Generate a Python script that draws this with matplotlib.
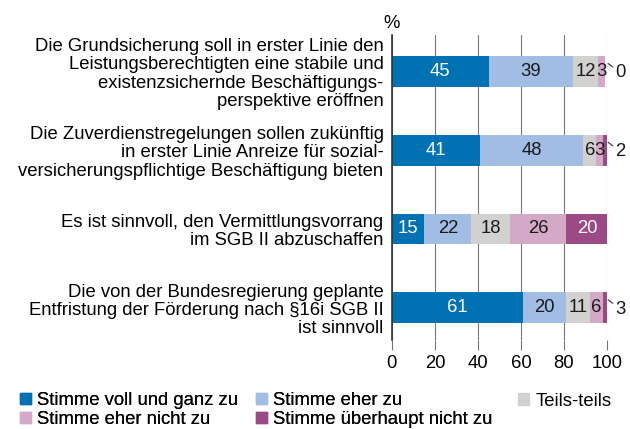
import matplotlib
matplotlib.use("Agg")
import matplotlib.pyplot as plt
from matplotlib.patches import Patch
import numpy as np

plt.rcParams["font.family"] = ["Liberation Sans", "DejaVu Sans"]

questions = [
    "Die Grundsicherung soll in erster Linie den\nLeistungsberechtigten eine stabile und\nexistenzsichernde Beschäftigungs-\nperspektive eröffnen",
    "Die Zuverdienstregelungen sollen zukünftig\nin erster Linie Anreize für sozial-\nversicherungspflichtige Beschäftigung bieten",
    "Es ist sinnvoll, den Vermittlungsvorrang\nim SGB II abzuschaffen",
    "Die von der Bundesregierung geplante\nEntfristung der Förderung nach §16i SGB II\nist sinnvoll",
]
categories = [
    "Stimme voll und ganz zu",
    "Stimme eher zu",
    "Teils-teils",
    "Stimme eher nicht zu",
    "Stimme überhaupt nicht zu",
]
voll = [45, 41, 15, 61]
eher = [39, 48, 22, 20]
teils = [12, 6, 18, 11]
eher_nicht = [3, 3, 26, 6]
gar_nicht = [0, 2, 20, 3]

colors = ["#0071b3", "#a1bde4", "#d1d2d0", "#d3a9c7", "#9b4a86"]
text_colors = ["white", "#1a1a1a", "#1a1a1a", "#1a1a1a", "white"]
series = [voll, eher, teils, eher_nicht, gar_nicht]
FS = 13.3

fig = plt.figure(figsize=(6.3, 4.29), dpi=100)
ax = fig.add_axes([0.622, 0.2075, 0.3415, 0.7105])

y = np.arange(len(questions))
left = np.zeros(len(questions))
for vals, col, tcol in zip(series, colors, text_colors):
    vals = np.array(vals, dtype=float)
    ax.barh(y, vals, left=left, height=0.39, color=col, zorder=3)
    for yi, (l, v) in enumerate(zip(left, vals)):
        if v >= 3 and not (tcol == "white" and v < 5):
            ax.text(l + v / 2, yi, f"{int(v)}", ha="center", va="center",
                    color=tcol, fontsize=FS, zorder=4)
    left += vals

# small values shown outside with a leader line
for yi in range(len(questions)):
    v = gar_nicht[yi]
    if v < 5:
        ax.annotate(f"{v}", xy=(100.5, yi - 0.1), xytext=(104, yi + 0.02),
                    ha="left", va="center", fontsize=FS, color="#1a1a1a",
                    annotation_clip=False,
                    arrowprops=dict(arrowstyle="-", lw=0.8, color="#333333",
                                    shrinkA=0, shrinkB=0))

ax.set_xlim(0, 100)
ax.set_ylim(len(questions) - 1 + 0.41, -0.46)
ax.set_xticks([0, 20, 40, 60, 80, 100])
ax.tick_params(axis="x", length=7, width=0.8, color="#777777", labelsize=FS, pad=4)
ax.set_yticks(y)
ax.set_yticklabels(questions, fontsize=FS, linespacing=1.1, ha="right")
ax.tick_params(axis="y", length=0, pad=6)
ax.grid(axis="x", color="#777777", lw=0.8, zorder=0)
for s in ["top", "right", "bottom"]:
    ax.spines[s].set_visible(False)
ax.spines["left"].set_color("#333333")
ax.spines["left"].set_linewidth(1.2)
ax.spines["left"].set_zorder(5)
ax.text(0, 1.01, "%", transform=ax.transAxes, ha="center", va="bottom", fontsize=FS)

handles = [Patch(color=c) for c in colors]
leg_kw = dict(frameon=False, fontsize=FS, handlelength=0.6, handleheight=0.6,
              handletextpad=0.35, borderaxespad=0, borderpad=0)
leg1 = fig.legend([handles[0], handles[3], handles[1], handles[4]],
                  [categories[0], categories[3], categories[1], categories[4]],
                  ncol=2, loc="lower left", bbox_to_anchor=(0.031, 0.002),
                  columnspacing=0.95, labelspacing=0.12, **leg_kw)
fig.add_artist(leg1)
fig.legend([handles[2]], [categories[2]], loc="lower left",
           bbox_to_anchor=(0.822, 0.045), **leg_kw)

fig.savefig("out.png", dpi=100)
